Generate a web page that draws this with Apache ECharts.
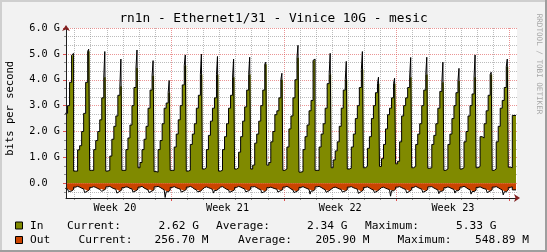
<!DOCTYPE html>
<html><head><meta charset="utf-8">
<script src="https://cdn.jsdelivr.net/npm/echarts@6/dist/echarts.min.js"></script>
<style>html,body{margin:0;padding:0;background:#f2f2f2}#c{width:547px;height:252px}</style>
</head><body><div id="c"></div>
<script>
// ---------------- data ----------------
const chartTitle = 'rn1n - Ethernet1/31 - Vinice 10G - mesic';
const yTicks = [0, 1, 2, 3, 4, 5, 6];
const weekLabels = ['Week 20', 'Week 21', 'Week 22', 'Week 23'];
const weekStartHours = [-24, 144, 312, 480, 648];   // hours from first midnight
// In (average), 3-hour slots per day; first row starts at slot 3, last row is partial
const inRows = [
  [2.7, 2.7, 3.0, 3.9, 4.95],
  [0.47, 0.47, 1.29, 1.45, 2.0, 2.7, 3.9, 5.1],
  [0.5, 0.5, 1.3, 1.65, 2.0, 2.45, 3.3, 4.1],
  [0.47, 0.5, 1.05, 1.7, 2.2, 2.6, 3.4, 3.75],
  [0.5, 0.5, 1.3, 1.75, 2.25, 3.0, 3.7, 4.45],
  [0.6, 0.8, 1.3, 1.7, 2.2, 2.9, 3.6, 4.15],
  [0.45, 0.43, 1.3, 1.65, 2.3, 2.9, 3.1, 3.5],
  [0.5, 0.5, 1.4, 1.9, 2.45, 3.0, 3.8, 4.55],
  [0.47, 0.5, 1.5, 1.9, 2.3, 2.9, 3.4, 4.2],
  [0.55, 0.6, 1.3, 1.85, 2.4, 2.9, 3.3, 4.2],
  [0.47, 0.5, 1.3, 1.8, 2.3, 2.9, 3.4, 4.1],
  [0.55, 0.6, 1.2, 1.8, 2.4, 2.95, 3.6, 4.2],
  [0.55, 0.7, 1.55, 1.9, 2.4, 3.0, 3.6, 4.6],
  [0.7, 0.8, 1.6, 2.0, 2.65, 2.8, 3.3, 4.0],
  [0.5, 0.55, 1.4, 2.1, 2.6, 3.3, 4.0, 4.85],
  [0.43, 0.45, 1.3, 1.8, 2.25, 2.8, 3.2, 4.75],
  [0.5, 0.5, 1.4, 1.9, 2.3, 2.9, 3.85, 4.2],
  [0.6, 0.9, 1.25, 1.6, 2.2, 2.9, 3.6, 4.0],
  [0.55, 0.58, 1.4, 1.9, 2.5, 3.0, 3.7, 4.4],
  [0.6, 0.65, 1.35, 1.8, 2.5, 3.0, 3.5, 3.85],
  [0.65, 0.95, 1.5, 2.1, 2.65, 2.9, 3.3, 3.85],
  [0.75, 0.85, 1.6, 2.6, 3.0, 3.3, 3.7, 4.1],
  [0.6, 0.65, 1.5, 1.9, 2.3, 3.0, 3.6, 4.2],
  [0.58, 0.6, 1.5, 1.85, 2.3, 2.9, 3.55, 3.9],
  [0.5, 0.55, 1.5, 1.9, 2.5, 3.0, 3.5, 3.95],
  [0.55, 0.6, 1.6, 2.0, 2.6, 3.0, 3.45, 4.1],
  [0.6, 0.65, 1.8, 1.75, 2.3, 2.8, 3.4, 4.2],
  [0.5, 0.55, 1.6, 2.2, 2.9, 3.2, 3.7, 4.5],
  [0.62, 0.6, 2.62]
];
// In daily maximum (evening peak), one per day
const inPeaks = [5.02, 5.18, 5.09, 4.80, 5.15, 4.74, 3.97, 4.96, 4.99, 4.9, 4.80, 4.87, 4.68, 4.25,
  5.33, 4.80, 5.02, 4.71, 5.09, 4.1, 4.06, 4.86, 4.87, 4.68, 4.44, 4.96, 4.29, 4.80, null];
// Out (average), same slots
const outRows = [
  [0.2, 0.22, 0.26, 0.3, 0.24],
  [0.15, 0.12, 0.15, 0.19, 0.22, 0.25, 0.3, 0.24],
  [0.16, 0.13, 0.16, 0.2, 0.24, 0.22, 0.27, 0.22],
  [0.14, 0.12, 0.17, 0.21, 0.23, 0.26, 0.31, 0.25],
  [0.17, 0.14, 0.15, 0.2, 0.22, 0.28, 0.29, 0.23],
  [0.15, 0.12, 0.18, 0.22, 0.26, 0.24, 0.3, 0.25],
  [0.14, 0.12, 0.16, 0.21, 0.25, 0.3, 0.33, 0.27],
  [0.16, 0.13, 0.17, 0.2, 0.23, 0.26, 0.29, 0.24],
  [0.15, 0.12, 0.16, 0.22, 0.25, 0.27, 0.31, 0.24],
  [0.17, 0.14, 0.17, 0.2, 0.24, 0.25, 0.28, 0.22],
  [0.15, 0.13, 0.18, 0.23, 0.26, 0.28, 0.3, 0.25],
  [0.16, 0.12, 0.15, 0.19, 0.22, 0.26, 0.29, 0.23],
  [0.14, 0.13, 0.17, 0.22, 0.25, 0.27, 0.32, 0.26],
  [0.17, 0.15, 0.18, 0.21, 0.23, 0.25, 0.28, 0.24],
  [0.15, 0.12, 0.16, 0.22, 0.26, 0.29, 0.31, 0.25],
  [0.16, 0.13, 0.17, 0.2, 0.24, 0.26, 0.3, 0.24],
  [0.14, 0.12, 0.16, 0.21, 0.25, 0.28, 0.29, 0.23],
  [0.17, 0.15, 0.18, 0.22, 0.24, 0.26, 0.3, 0.25],
  [0.15, 0.13, 0.17, 0.2, 0.23, 0.27, 0.32, 0.26],
  [0.16, 0.14, 0.18, 0.23, 0.26, 0.28, 0.3, 0.24],
  [0.17, 0.15, 0.19, 0.22, 0.25, 0.27, 0.29, 0.23],
  [0.15, 0.13, 0.17, 0.21, 0.24, 0.26, 0.31, 0.25],
  [0.16, 0.12, 0.16, 0.2, 0.23, 0.27, 0.3, 0.24],
  [0.14, 0.13, 0.18, 0.22, 0.26, 0.28, 0.31, 0.26],
  [0.17, 0.14, 0.17, 0.21, 0.24, 0.26, 0.29, 0.23],
  [0.15, 0.12, 0.16, 0.22, 0.25, 0.29, 0.32, 0.27],
  [0.16, 0.14, 0.18, 0.21, 0.23, 0.27, 0.3, 0.25],
  [0.15, 0.13, 0.17, 0.22, 0.26, 0.3, 0.33, 0.26],
  [0.16, 0.14, 0.257]
];
const outPeaks = [0.32, 0.36, 0.31, 0.38, 0.34, 0.36, 0.55, 0.34, 0.33, 0.38, 0.35, 0.33, 0.37, 0.34,
  0.36, 0.42, 0.35, 0.34, 0.39, 0.36, 0.5, 0.37, 0.35, 0.4, 0.38, 0.42, 0.36, 0.45, null];
const legendIn = ['2.62 G', '2.34 G', '5.33 G'];
const legendOut = ['256.70 M', '205.90 M', '548.89 M'];

// ---------------- layout / helpers ----------------
const FIRST_SLOT = 3, SLOT_H = 3, DATA_SHIFT = -1.5, END_HOUR = 658;
const X_MIN = -12.82, X_MAX = 659.5, Y_MIN = -0.57, Y_MAX = 6;
const slotHour = (d, s) => (d - 1) * 24 + s * SLOT_H + DATA_SHIFT;

function buildSeries(rows, peaks, peakSlot, sign) {
  const avg = [], max = [];
  rows.forEach((row, d) => {
    const s0 = d === 0 ? FIRST_SLOT : 0;
    row.forEach((v, i) => {
      const s = s0 + i, h = slotHour(d, s);
      avg.push([h, sign * v]);
      max.push([h, sign * v]);
      if (s === peakSlot && peaks[d] != null) max.push([h + 1.5, sign * peaks[d]]);
    });
  });
  avg.push([END_HOUR, avg[avg.length - 1][1]]);
  max.push([END_HOUR, max[max.length - 1][1]]);
  return { avg, max };
}
const inS = buildSeries(inRows, inPeaks, 7, 1);
const outS = buildSeries(outRows, outPeaks, 5, -1);

const weekLines = weekStartHours.slice(1);
const weekCenters = weekLabels.map((_, i) => (weekStartHours[i] + weekStartHours[i + 1]) / 2);
const dayLines = [];
for (let d = 1; d < inRows.length; d++) {
  const h = (d - 1) * 24;
  if (weekLines.indexOf(h) < 0) dayLines.push(h);
}
const minorY = [];
[-1].concat(yTicks).forEach(t => { [1 / 3, 2 / 3].forEach(f => { const v = t + f; if (v > Y_MIN && v < Y_MAX) minorY.push(v); }); });

const FONT = '"DejaVu Sans Mono", monospace';
const GRID_MINOR = 'rgba(143,143,143,0.6)';
const GRID_MAJOR = 'rgba(222,79,79,0.6)';
const IN_COLOR = '#808a00', OUT_COLOR = '#cc4400';

const chart = echarts.init(document.getElementById('c'), null, { renderer: 'canvas', width: 547, height: 252 });

function txt(x, y, text, size, opts) {
  return Object.assign({
    type: 'text', x: x, y: y, silent: true,
    style: Object.assign({ text: text, font: size + 'px ' + FONT, fill: '#000', align: 'left', verticalAlign: 'middle' }, (opts && opts.style) || {})
  }, (opts && opts.el) || {});
}

const LEG = 11.2;
const graphics = [
  { type: 'line', silent: true, shape: { x1: 0, y1: 1, x2: 547, y2: 1 }, style: { stroke: '#cfcfcf', lineWidth: 2 } },
  { type: 'line', silent: true, shape: { x1: 1, y1: 0, x2: 1, y2: 252 }, style: { stroke: '#cfcfcf', lineWidth: 2 } },
  { type: 'line', silent: true, shape: { x1: 0, y1: 251, x2: 547, y2: 251 }, style: { stroke: '#9e9e9e', lineWidth: 2 } },
  { type: 'line', silent: true, shape: { x1: 546, y1: 0, x2: 546, y2: 252 }, style: { stroke: '#9e9e9e', lineWidth: 2 } },
  txt(273.5, 19, chartTitle, 12.8, { style: { align: 'center' } }),
  txt(10.3, 108.3, 'bits per second', 10.5, { style: { align: 'center' }, el: { rotation: Math.PI / 2 } }),
  txt(538.5, 64, 'RRDTOOL / TOBI OETIKER', 7.6, { style: { align: 'center', fill: '#a8a8a8' }, el: { rotation: -Math.PI / 2 } }),
  { type: 'rect', silent: true, shape: { x: 15.5, y: 222, width: 7, height: 7 }, style: { fill: IN_COLOR, stroke: '#000', lineWidth: 1 } },
  { type: 'rect', silent: true, shape: { x: 15.5, y: 236.5, width: 7, height: 7 }, style: { fill: OUT_COLOR, stroke: '#000', lineWidth: 1 } },
  txt(30, 225.7, 'In', LEG), txt(67, 225.7, 'Current:', LEG), txt(158.5, 225.7, legendIn[0], LEG),
  txt(216, 225.7, 'Average:', LEG), txt(307, 225.7, legendIn[1], LEG),
  txt(365, 225.7, 'Maximum:', LEG), txt(456, 225.7, legendIn[2], LEG),
  txt(30, 240.4, 'Out', LEG), txt(78.5, 240.4, 'Current:', LEG), txt(154.5, 240.4, legendOut[0], LEG),
  txt(238, 240.4, 'Average:', LEG), txt(315.5, 240.4, legendOut[1], LEG),
  txt(397.5, 240.4, 'Maximum:', LEG), txt(475, 240.4, legendOut[2], LEG)
];

const option = {
  backgroundColor: '#f2f2f2',
  animation: false,
  grid: { left: 66, top: 28, width: 451, height: 170, show: true, backgroundColor: '#ffffff', borderWidth: 0 },
  xAxis: [
    { // daily minor grid
      type: 'value', min: X_MIN, max: X_MAX, position: 'bottom',
      axisLine: { show: false, onZero: false },
      axisTick: { show: true, customValues: dayLines, length: 2, lineStyle: { color: '#8f8f8f' } },
      axisLabel: { show: false },
      splitLine: { show: true, lineStyle: { color: GRID_MINOR, type: [1, 1], width: 1 } }
    },
    { // weekly major grid + labels
      type: 'value', min: X_MIN, max: X_MAX, position: 'bottom',
      axisLine: { show: false, onZero: false },
      axisTick: { show: true, customValues: weekLines, length: 3, lineStyle: { color: '#de4f4f' } },
      axisLabel: {
        show: true, customValues: weekCenters, margin: 5, color: '#000', fontFamily: FONT, fontSize: 10.2,
        formatter: v => { let k = 0; weekCenters.forEach((c, i) => { if (Math.abs(c - v) < Math.abs(weekCenters[k] - v)) k = i; }); return weekLabels[k]; }
      },
      splitLine: { show: true, lineStyle: { color: GRID_MAJOR, type: [1, 1], width: 1 } }
    },
    { // axis line
      type: 'value', min: X_MIN, max: X_MAX, position: 'bottom', z: 10,
      axisLine: { show: true, onZero: false, lineStyle: { color: '#1f1f1f', width: 1 } },
      axisTick: { show: false }, axisLabel: { show: false }, splitLine: { show: false }
    },
    { // arrow
      type: 'value', min: X_MIN, max: X_MAX, position: 'bottom', z: 11,
      axisLine: { show: true, onZero: false, symbol: ['none', 'arrow'], symbolSize: [6, 6], symbolOffset: [0, 3], lineStyle: { color: '#801f1f', width: 0 } },
      axisTick: { show: false }, axisLabel: { show: false }, splitLine: { show: false }
    }
  ],
  yAxis: [
    {
      type: 'value', min: Y_MIN, max: Y_MAX, position: 'left',
      axisLine: { show: false, onZero: false },
      axisTick: { show: true, customValues: yTicks, length: 3, lineStyle: { color: '#de4f4f' } },
      axisLabel: {
        show: true, customValues: yTicks, margin: 6, color: '#000', fontFamily: FONT, fontSize: 10.2,
        formatter: v => v === 0 ? '0.0  ' : v.toFixed(1) + ' G'
      },
      splitLine: { show: true, lineStyle: { color: GRID_MAJOR, type: [1, 1], width: 1 } }
    },
    {
      type: 'value', min: Y_MIN, max: Y_MAX, position: 'left',
      axisLine: { show: false, onZero: false },
      axisTick: { show: true, customValues: minorY, length: 2, lineStyle: { color: '#8f8f8f' } },
      axisLabel: { show: false },
      splitLine: { show: true, lineStyle: { color: GRID_MINOR, type: [1, 1], width: 1 } }
    },
    {
      type: 'value', min: Y_MIN, max: Y_MAX, position: 'left', z: 10,
      axisLine: { show: true, onZero: false, lineStyle: { color: '#1f1f1f', width: 1 } },
      axisTick: { show: false }, axisLabel: { show: false }, splitLine: { show: false }
    },
    {
      type: 'value', min: Y_MIN, max: Y_MAX, position: 'left', z: 11,
      axisLine: { show: true, onZero: false, symbol: ['none', 'arrow'], symbolSize: [6, 6], symbolOffset: [0, 3], lineStyle: { color: '#801f1f', width: 0 } },
      axisTick: { show: false }, axisLabel: { show: false }, splitLine: { show: false }
    }
  ],
  series: [
    { type: 'line', name: 'In', data: inS.avg, step: 'end', symbol: 'none', lineStyle: { width: 0 }, areaStyle: { color: IN_COLOR, opacity: 1 }, z: 2 },
    { type: 'line', name: 'Out', data: outS.avg, step: 'end', symbol: 'none', lineStyle: { width: 0 }, areaStyle: { color: OUT_COLOR, opacity: 1 }, z: 2 },
    { type: 'line', name: 'In max', data: inS.max, step: 'end', symbol: 'none', lineStyle: { width: 1, color: '#000' }, z: 3 },
    { type: 'line', name: 'Out max', data: outS.max, step: 'end', symbol: 'none', lineStyle: { width: 1, color: '#000' }, z: 3 }
  ],
  graphic: graphics
};
chart.setOption(option);
</script>
</body></html>
